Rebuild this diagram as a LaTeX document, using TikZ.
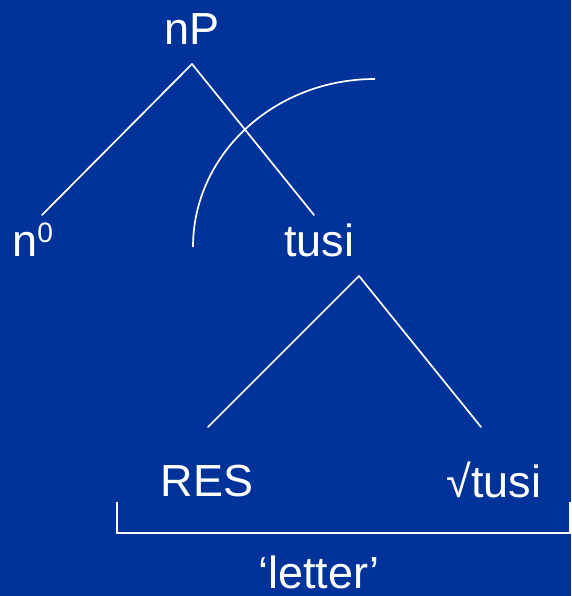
\documentclass[tikz,border=0pt]{standalone}
\usepackage{fontspec}
\setmainfont{Liberation Sans}
\usepackage{tkz-euclide}
\usepackage{tikz}
\definecolor{slideblue}{RGB}{0,51,153}
\tikzset{word/.style={anchor=base,inner sep=0pt,text=white,font=\fontsize{32}{38}\selectfont}}

\begin{document}
\begin{tikzpicture}
    %background
    \fill[slideblue] (0,0) rectangle (14.275,14.9);
    \useasboundingbox (0,0) rectangle (14.275,14.9);
    %definitions
    \tkzDefPoint(4.8,13.3){A}
    \tkzDefPoint(1.05,9.525){B}
    \tkzDefPoint(7.85,9.525){C}
    \tkzDefPoint(8.975,8.0){D}
    \tkzDefPoint(5.2,4.225){E}
    \tkzDefPoint(12.025,4.225){F}
    \tkzDefPoint(4.825,8.725){S}
    \tkzDefPoint(2.925,2.35){G}
    \tkzDefPoint(2.925,1.575){H}
    \tkzDefPoint(14.25,1.575){K}
    \tkzDefPoint(14.25,2.35){L}
    %drawing
    \tkzDrawSegments[white,line width=1.2pt](A,B A,C D,E D,F)
    \draw[white,line width=1.2pt] (S) arc[start angle=180,end angle=90,x radius=4.55,y radius=4.2];
    \draw[white,line width=1.4pt] (G) -- (H) -- (K) -- (L);
    %label
    \node[word] (nP) at (4.8,13.775) {nP};
    \node[word,anchor=base west] (n0) at (0.3,8.475) {n\raisebox{10pt}{\fontsize{20}{24}\selectfont 0}};
    \node[word] (tusi) at (7.975,8.475) {tusi};
    \node[word] (res) at (5.175,2.475) {RES};
    \node[word] (root) at (12.35,2.45) {√tusi};
    \node[word] (gloss) at (7.975,0.2) {‘letter’};
\end{tikzpicture}
\end{document}
